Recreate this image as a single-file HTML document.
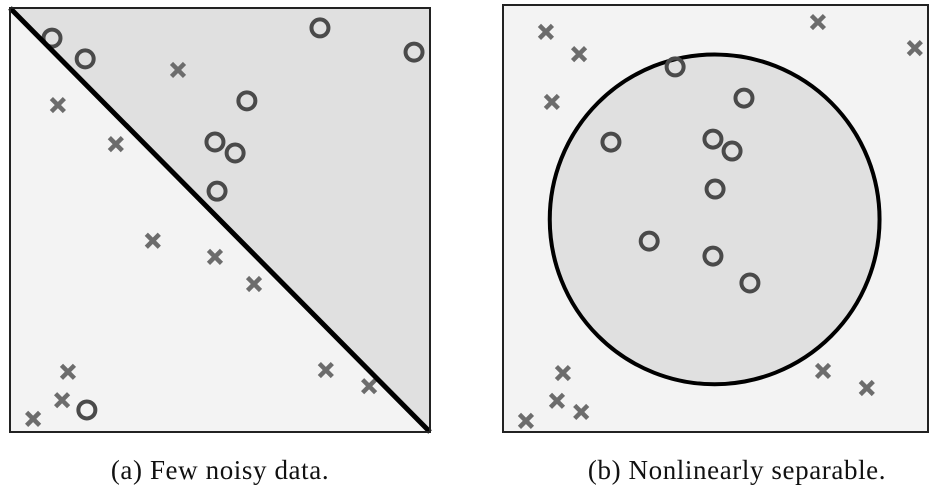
<!DOCTYPE html>
<html><head><meta charset="utf-8"><style>
body{margin:0;background:#fff;width:938px;height:498px;overflow:hidden}
svg{display:block}
text{font-family:"Liberation Serif",serif;font-size:27px;fill:#111;letter-spacing:0.6px}
</style></head><body>
<svg id="chart" width="938" height="498"></svg>
<script>
const panelACircles=[[10,7.1],[17.9,12],[73.8,4.7],[96.2,10.4],[56.4,21.9],[48.8,31.6],[53.6,34.2],[49.3,43.2],[18.3,94.8]];
const panelACrosses=[[40,14.6],[11.4,22.9],[25.2,32.1],[34,54.9],[48.8,58.7],[58.1,65.1],[13.8,85.8],[12.4,92.5],[5.5,96.9],[75.2,85.4],[85.5,89.2]];
const panelBCircles=[[40.5,14.5],[56.7,21.8],[25.4,32.1],[49.4,31.4],[53.9,34.2],[49.9,43.1],[34.4,55.3],[49.4,58.8],[58.1,65.1]];
const panelBCrosses=[[10.1,6.3],[17.9,11.5],[11.5,22.7],[74.1,4],[96.9,10.1],[14.1,86.2],[12.7,92.7],[18.4,95.3],[5.4,97.4],[75.3,85.7],[85.6,89.7]];
const boundaryA=[[0,0],[100,100]];
const boundaryB=[49.8,50.2,38.8];
const captions=["(a) Few noisy data.","(b) Nonlinearly separable."];

const NS="http://www.w3.org/2000/svg";
const svg=document.getElementById('chart');
function mk(tag,attrs,parent){const e=document.createElementNS(NS,tag);for(const k in attrs)e.setAttribute(k,attrs[k]);(parent||svg).appendChild(e);return e;}
function axis(x0,w,y0,h){return{x:v=>x0+v/100*w,y:v=>y0+v/100*h,sx:v=>v/100*w,sy:v=>v/100*h};}

function drawMarkers(g,ax,circles,crosses,pfx){
  circles.forEach((p,i)=>{
    const c=mk('circle',{cx:ax.x(p[0]),cy:ax.y(p[1]),r:8.5,fill:'none',stroke:'#4a4a4a','stroke-width':4},g);
    
    
  });
  crosses.forEach((p,i)=>{
    const cx=ax.x(p[0]),cy=ax.y(p[1]),s=6.5;
    const x=mk('path',{d:`M${cx-s},${cy-s}L${cx+s},${cy+s}M${cx+s},${cy-s}L${cx-s},${cy+s}`,stroke:'#6c6c6c','stroke-width':4.5,fill:'none'},g);
    
    
  });
}

// Panel A
const gA=mk('g',{});


const A=axis(10,420,8,424);
mk('rect',{x:10,y:8,width:420,height:424,fill:'#f3f3f3'},gA);
const region=mk('polygon',{points:`${A.x(boundaryA[0][0])},${A.y(boundaryA[0][1])} ${A.x(100)},${A.y(0)} ${A.x(boundaryA[1][0])},${A.y(boundaryA[1][1])}`,fill:'#e0e0e0'},gA);


drawMarkers(gA,A,panelACircles,panelACrosses,'panel-a');
const lineA=mk('line',{x1:A.x(boundaryA[0][0]),y1:A.y(boundaryA[0][1]),x2:A.x(boundaryA[1][0]),y2:A.y(boundaryA[1][1]),stroke:'#000','stroke-width':5},gA);


const boxA=mk('rect',{x:10,y:8,width:420,height:424,fill:'none',stroke:'#222','stroke-width':2},gA);


const capA=mk('text',{x:220,y:479,'text-anchor':'middle'},gA);capA.textContent=captions[0];



// Panel B
const gB=mk('g',{});


const B=axis(503,425,5,427);
mk('rect',{x:503,y:5,width:425,height:427,fill:'#f3f3f3'},gB);
const circ=mk('ellipse',{cx:B.x(boundaryB[0]),cy:B.y(boundaryB[1]),rx:B.sx(boundaryB[2]),ry:B.sx(boundaryB[2]),fill:'#e0e0e0',stroke:'#000','stroke-width':4},gB);


drawMarkers(gB,B,panelBCircles,panelBCrosses,'panel-b');
const boxB=mk('rect',{x:503,y:5,width:425,height:427,fill:'none',stroke:'#222','stroke-width':2},gB);


const capB=mk('text',{x:737,y:479,'text-anchor':'middle'},gB);capB.textContent=captions[1];


</script>
</body></html>
